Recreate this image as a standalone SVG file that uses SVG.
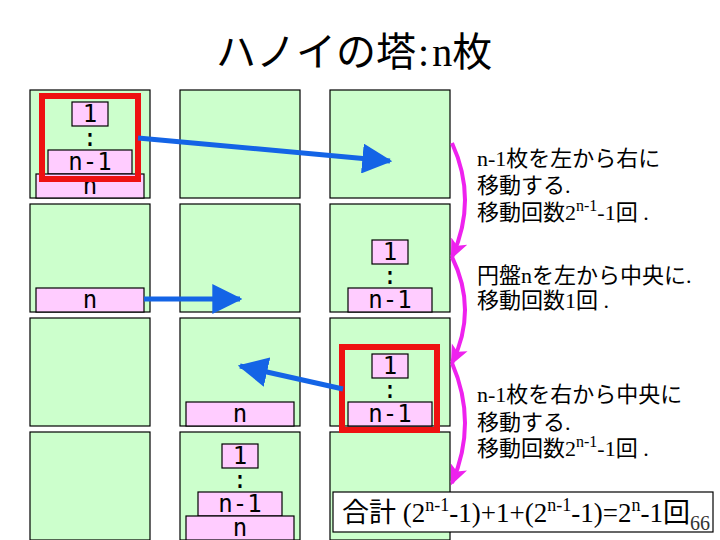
<svg xmlns="http://www.w3.org/2000/svg" width="720" height="540" viewBox="0 0 720 540">
<style>
.panel{fill:#ccffcc;stroke:#000;stroke-width:1.2}
.disk{fill:#ffccff;stroke:#000;stroke-width:1.2}
.dl{font-family:"DejaVu Sans Mono","Liberation Mono",monospace;font-size:24px;text-anchor:middle;fill:#000}
.red{fill:none;stroke:#ee1111;stroke-width:6}
.blue{fill:none;stroke:#1464e6;stroke-width:5}
.mag{fill:none;stroke:#ee22ee;stroke-width:4}
.jt{font-family:"Liberation Serif","Noto Sans CJK JP",serif;font-size:22px;fill:#000}
.sup{font-size:16px}
</style>
<defs>
<marker id="bh" markerUnits="userSpaceOnUse" markerWidth="30" markerHeight="30" viewBox="0 0 26 26" refX="24" refY="13" orient="auto">
<path d="M0,0 L26,13 L0,26 Z" fill="#1464e6"/>
</marker>
<marker id="mh" markerUnits="userSpaceOnUse" markerWidth="20" markerHeight="20" viewBox="0 0 16 14" refX="14" refY="7" orient="auto">
<path d="M0,0 L16,7 L0,14 L4,7 Z" fill="#ee22ee"/>
</marker>
</defs>

<text x="216" y="66" font-family="'Liberation Serif','Noto Sans CJK JP',serif" font-size="40">ハノイの塔<tspan dx="2">:</tspan><tspan dx="3">n枚</tspan></text>

<g id="panels">
<rect class="panel" x="30" y="90" width="120" height="108"/>
<rect class="panel" x="180" y="90" width="120" height="108"/>
<rect class="panel" x="330" y="90" width="120" height="108"/>
<rect class="panel" x="30" y="204" width="120" height="108"/>
<rect class="panel" x="180" y="204" width="120" height="108"/>
<rect class="panel" x="330" y="204" width="120" height="108"/>
<rect class="panel" x="30" y="318" width="120" height="108"/>
<rect class="panel" x="180" y="318" width="120" height="108"/>
<rect class="panel" x="330" y="318" width="120" height="108"/>
<rect class="panel" x="30" y="432" width="120" height="108"/>
<rect class="panel" x="180" y="432" width="120" height="108"/>
<rect class="panel" x="330" y="432" width="120" height="108"/>
</g>

<g id="step1-disks">
<rect class="disk" x="72" y="102" width="36" height="24"/><text class="dl" x="90" y="122">1</text>
<text class="dl" x="90" y="146">:</text>
<rect class="disk" x="48" y="150" width="84" height="24"/><text class="dl" x="90" y="170">n-1</text>
<rect class="disk" x="36" y="174" width="108" height="24"/><text class="dl" x="90" y="194">n</text>
</g>

<g id="step2-disks">
<rect class="disk" x="36" y="288" width="108" height="24"/><text class="dl" x="90" y="308">n</text>
<rect class="disk" x="372" y="240" width="36" height="24"/><text class="dl" x="390" y="260">1</text>
<text class="dl" x="390" y="284">:</text>
<rect class="disk" x="348" y="288" width="84" height="24"/><text class="dl" x="390" y="308">n-1</text>
</g>

<g id="step3-disks">
<rect class="disk" x="186" y="402" width="108" height="24"/><text class="dl" x="240" y="422">n</text>
<rect class="disk" x="372" y="354" width="36" height="24"/><text class="dl" x="390" y="374">1</text>
<text class="dl" x="390" y="398">:</text>
<rect class="disk" x="348" y="402" width="84" height="24"/><text class="dl" x="390" y="422">n-1</text>
</g>

<g id="step4-disks">
<rect class="disk" x="222" y="444" width="36" height="24"/><text class="dl" x="240" y="464">1</text>
<text class="dl" x="240" y="488">:</text>
<rect class="disk" x="198" y="492" width="84" height="24"/><text class="dl" x="240" y="512">n-1</text>
<rect class="disk" x="186" y="516" width="108" height="24"/><text class="dl" x="240" y="536">n</text>
</g>

<g id="highlights">
<rect class="red" x="42" y="96" width="96" height="83"/>
<rect class="red" x="342" y="347" width="95" height="83"/>
</g>

<g id="connectors">
<line class="blue" x1="138" y1="138" x2="390" y2="161" marker-end="url(#bh)"/>
<line class="blue" x1="144" y1="299" x2="240" y2="299" marker-end="url(#bh)"/>
<line class="blue" x1="343" y1="389" x2="240" y2="366" marker-end="url(#bh)"/>
<path class="mag" d="M452,143 Q478,200 452,257" marker-end="url(#mh)"/>
<path class="mag" d="M452,257 Q478,310 452,363" marker-end="url(#mh)"/>
<path class="mag" d="M452,363 Q478,423 452,483" marker-end="url(#mh)"/>
</g>

<g id="text1">
<text class="jt" x="477" y="166">n-1枚を左から右に</text>
<text class="jt" x="477" y="193">移動する.</text>
<text class="jt" x="477" y="220">移動回数2<tspan class="sup" dy="-9">n-1</tspan><tspan dy="9">-1回 .</tspan></text>
</g>
<g id="text2">
<text class="jt" x="477" y="283">円盤nを左から中央に.</text>
<text class="jt" x="477" y="308">移動回数1回 .</text>
</g>
<g id="text3">
<text class="jt" x="477" y="402">n-1枚を右から中央に</text>
<text class="jt" x="477" y="430">移動する.</text>
<text class="jt" x="477" y="456">移動回数2<tspan class="sup" dy="-9">n-1</tspan><tspan dy="9">-1回 .</tspan></text>
</g>

<g id="total">
<rect x="333" y="492" width="380" height="40" fill="#fff" stroke="#000" stroke-width="1.2"/>
<text x="342" y="522" font-family="'Liberation Serif','Noto Sans CJK JP',serif" font-size="27">合計 (2<tspan font-size="18" dy="-11">n-1</tspan><tspan dy="11">-1)+1+(2</tspan><tspan font-size="18" dy="-11">n-1</tspan><tspan dy="11">-1)=2</tspan><tspan font-size="18" dy="-11">n</tspan><tspan dy="11">-1回</tspan></text>
</g>
<text x="700" y="530" font-family="'Liberation Serif',serif" font-size="20" text-anchor="middle" fill="#333">66</text>
</svg>
